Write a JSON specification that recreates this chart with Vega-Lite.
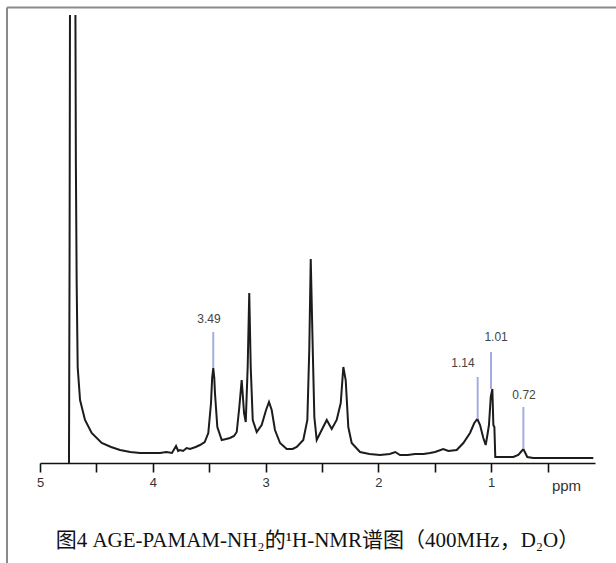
{
  "$schema": "https://vega.github.io/schema/vega-lite/v6.json",
  "width": 555,
  "height": 448,
  "autosize": {"type": "none"},
  "padding": {"left": 40, "top": 15, "right": 21, "bottom": 100},
  "background": "white",
  "config": {"view": {"stroke": null}},
  "title": {
    "text": "图4 AGE-PAMAM-NH₂的¹H-NMR谱图（400MHz，D₂O）",
    "orient": "bottom",
    "anchor": "middle",
    "offset": -34,
    "font": "Liberation Serif, Noto Sans CJK SC",
    "fontSize": 21,
    "fontWeight": "normal",
    "color": "#111"
  },
  "layer": [
    {
      "data": {"values": [
      {"ppm": 4.743, "intensity": 0}, {"ppm": 4.738, "intensity": 200}, {"ppm": 4.732, "intensity": 600},
      {"ppm": 4.725, "intensity": 1200}, {"ppm": 4.70, "intensity": 1200}, {"ppm": 4.69, "intensity": 600},
      {"ppm": 4.682, "intensity": 300}, {"ppm": 4.675, "intensity": 180}, {"ppm": 4.666, "intensity": 96},
      {"ppm": 4.645, "intensity": 63}, {"ppm": 4.601, "intensity": 43}, {"ppm": 4.542, "intensity": 30},
      {"ppm": 4.453, "intensity": 20}, {"ppm": 4.37, "intensity": 16}, {"ppm": 4.291, "intensity": 13},
      {"ppm": 4.20, "intensity": 11}, {"ppm": 4.113, "intensity": 10}, {"ppm": 4.02, "intensity": 10},
      {"ppm": 3.936, "intensity": 10}, {"ppm": 3.88, "intensity": 11}, {"ppm": 3.83, "intensity": 10},
      {"ppm": 3.794, "intensity": 17}, {"ppm": 3.775, "intensity": 12}, {"ppm": 3.759, "intensity": 13},
      {"ppm": 3.732, "intensity": 12}, {"ppm": 3.70, "intensity": 15}, {"ppm": 3.670, "intensity": 14},
      {"ppm": 3.62, "intensity": 16}, {"ppm": 3.582, "intensity": 18}, {"ppm": 3.54, "intensity": 21},
      {"ppm": 3.508, "intensity": 30}, {"ppm": 3.484, "intensity": 60}, {"ppm": 3.474, "intensity": 85},
      {"ppm": 3.464, "intensity": 95}, {"ppm": 3.455, "intensity": 85}, {"ppm": 3.449, "intensity": 70},
      {"ppm": 3.428, "intensity": 36}, {"ppm": 3.389, "intensity": 23}, {"ppm": 3.35, "intensity": 24},
      {"ppm": 3.316, "intensity": 25}, {"ppm": 3.28, "intensity": 27}, {"ppm": 3.256, "intensity": 31},
      {"ppm": 3.233, "intensity": 56}, {"ppm": 3.212, "intensity": 83}, {"ppm": 3.191, "intensity": 50},
      {"ppm": 3.176, "intensity": 41}, {"ppm": 3.159, "intensity": 96}, {"ppm": 3.145, "intensity": 170},
      {"ppm": 3.132, "intensity": 96}, {"ppm": 3.114, "intensity": 43}, {"ppm": 3.079, "intensity": 31},
      {"ppm": 3.035, "intensity": 38}, {"ppm": 2.996, "intensity": 53}, {"ppm": 2.970, "intensity": 61},
      {"ppm": 2.946, "intensity": 53}, {"ppm": 2.917, "intensity": 33}, {"ppm": 2.872, "intensity": 20},
      {"ppm": 2.813, "intensity": 14}, {"ppm": 2.76, "intensity": 14}, {"ppm": 2.724, "intensity": 16},
      {"ppm": 2.666, "intensity": 23}, {"ppm": 2.630, "intensity": 43}, {"ppm": 2.613, "intensity": 113},
      {"ppm": 2.600, "intensity": 204}, {"ppm": 2.582, "intensity": 113}, {"ppm": 2.568, "intensity": 46},
      {"ppm": 2.547, "intensity": 23}, {"ppm": 2.503, "intensity": 33}, {"ppm": 2.458, "intensity": 43},
      {"ppm": 2.414, "intensity": 34}, {"ppm": 2.370, "intensity": 43}, {"ppm": 2.334, "intensity": 60},
      {"ppm": 2.311, "intensity": 96}, {"ppm": 2.290, "intensity": 83}, {"ppm": 2.267, "intensity": 36},
      {"ppm": 2.237, "intensity": 20}, {"ppm": 2.163, "intensity": 11}, {"ppm": 2.08, "intensity": 9},
      {"ppm": 1.986, "intensity": 8}, {"ppm": 1.90, "intensity": 9}, {"ppm": 1.85, "intensity": 11},
      {"ppm": 1.809, "intensity": 8}, {"ppm": 1.74, "intensity": 8}, {"ppm": 1.676, "intensity": 9},
      {"ppm": 1.60, "intensity": 9}, {"ppm": 1.543, "intensity": 10}, {"ppm": 1.498, "intensity": 11},
      {"ppm": 1.425, "intensity": 14}, {"ppm": 1.380, "intensity": 12}, {"ppm": 1.306, "intensity": 13},
      {"ppm": 1.247, "intensity": 20}, {"ppm": 1.188, "intensity": 30}, {"ppm": 1.150, "intensity": 40},
      {"ppm": 1.123, "intensity": 44}, {"ppm": 1.099, "intensity": 38}, {"ppm": 1.070, "intensity": 25},
      {"ppm": 1.049, "intensity": 18}, {"ppm": 1.031, "intensity": 30}, {"ppm": 1.020, "intensity": 38},
      {"ppm": 1.004, "intensity": 66}, {"ppm": 0.990, "intensity": 74}, {"ppm": 0.981, "intensity": 38},
      {"ppm": 0.972, "intensity": 36}, {"ppm": 0.964, "intensity": 6}, {"ppm": 0.922, "intensity": 6},
      {"ppm": 0.804, "intensity": 6}, {"ppm": 0.760, "intensity": 8}, {"ppm": 0.715, "intensity": 14},
      {"ppm": 0.680, "intensity": 6}, {"ppm": 0.627, "intensity": 5}, {"ppm": 0.39, "intensity": 5},
      {"ppm": 0.095, "intensity": 5}
      ]},
      "mark": {"type": "line", "color": "#1c1c1c", "strokeWidth": 2, "clip": true},
      "encoding": {
        "x": {
          "field": "ppm",
          "type": "quantitative",
          "scale": {"domain": [0.08, 5], "reverse": true, "nice": false, "zero": false},
          "axis": {
            "values": [5, 4.5, 4, 3.5, 3, 2.5, 2, 1.5, 1, 0.5],
            "format": ".0f",
            "labelExpr": "datum.value % 1 === 0 ? datum.label : ''",
            "grid": false,
            "domainColor": "#111",
            "domainWidth": 1.6,
            "tickColor": "#111",
            "tickWidth": 1.6,
            "tickSize": 9,
            "labelPadding": 4,
            "labelFont": "Liberation Sans",
            "labelFontSize": 13,
            "labelColor": "#333",
            "labelFlush": false,
            "title": "ppm",
            "titleFont": "Liberation Sans",
            "titleFontSize": 15,
            "titleFontWeight": "normal",
            "titleColor": "#333",
            "titleX": 526,
            "titleY": 22,
            "titleAlign": "center",
            "titleBaseline": "middle"
          }
        },
        "y": {
          "field": "intensity",
          "type": "quantitative",
          "scale": {"domain": [0, 448], "nice": false},
          "axis": null
        }
      }
    },
    {
      "data": {"values": [{"ppm": 5.2926, "right": -0.106, "intensity": 455.5, "bottom": -100}]},
      "mark": {"type": "rule", "color": "#8a8a8a", "strokeWidth": 2},
      "encoding": {
        "x": {"field": "ppm", "type": "quantitative", "axis": {
            "values": [5, 4.5, 4, 3.5, 3, 2.5, 2, 1.5, 1, 0.5],
            "format": ".0f",
            "labelExpr": "datum.value % 1 === 0 ? datum.label : ''",
            "grid": false,
            "domainColor": "#111",
            "domainWidth": 1.6,
            "tickColor": "#111",
            "tickWidth": 1.6,
            "tickSize": 9,
            "labelPadding": 4,
            "labelFont": "Liberation Sans",
            "labelFontSize": 13,
            "labelColor": "#333",
            "labelFlush": false,
            "title": "ppm",
            "titleFont": "Liberation Sans",
            "titleFontSize": 15,
            "titleFontWeight": "normal",
            "titleColor": "#333",
            "titleX": 526,
            "titleY": 22,
            "titleAlign": "center",
            "titleBaseline": "middle"
          }},
        "x2": {"field": "right"},
        "y": {"field": "intensity", "type": "quantitative", "axis": null}
      }
    },
    {
      "data": {"values": [{"ppm": 5.2926, "right": -0.106, "intensity": 455.5, "bottom": -100}]},
      "mark": {"type": "rule", "color": "#8a8a8a", "strokeWidth": 2},
      "encoding": {
        "x": {"field": "ppm", "type": "quantitative", "axis": {
            "values": [5, 4.5, 4, 3.5, 3, 2.5, 2, 1.5, 1, 0.5],
            "format": ".0f",
            "labelExpr": "datum.value % 1 === 0 ? datum.label : ''",
            "grid": false,
            "domainColor": "#111",
            "domainWidth": 1.6,
            "tickColor": "#111",
            "tickWidth": 1.6,
            "tickSize": 9,
            "labelPadding": 4,
            "labelFont": "Liberation Sans",
            "labelFontSize": 13,
            "labelColor": "#333",
            "labelFlush": false,
            "title": "ppm",
            "titleFont": "Liberation Sans",
            "titleFontSize": 15,
            "titleFontWeight": "normal",
            "titleColor": "#333",
            "titleX": 526,
            "titleY": 22,
            "titleAlign": "center",
            "titleBaseline": "middle"
          }},
        "y": {"field": "intensity", "type": "quantitative", "axis": null},
        "y2": {"field": "bottom"}
      }
    },
    {
      "data": {"values": [
        {"label": "3.49", "ppm": 3.464, "top": 131, "intensity": 95},
        {"label": "1.14", "ppm": 1.120, "top": 86, "intensity": 44},
        {"label": "1.01", "ppm": 1.002, "top": 111, "intensity": 74},
        {"label": "0.72", "ppm": 0.715, "top": 56, "intensity": 14}
      ]},
      "mark": {"type": "rule", "color": "#a3addf", "strokeWidth": 2},
      "encoding": {
        "x": {"field": "ppm", "type": "quantitative", "axis": {
            "values": [5, 4.5, 4, 3.5, 3, 2.5, 2, 1.5, 1, 0.5],
            "format": ".0f",
            "labelExpr": "datum.value % 1 === 0 ? datum.label : ''",
            "grid": false,
            "domainColor": "#111",
            "domainWidth": 1.6,
            "tickColor": "#111",
            "tickWidth": 1.6,
            "tickSize": 9,
            "labelPadding": 4,
            "labelFont": "Liberation Sans",
            "labelFontSize": 13,
            "labelColor": "#333",
            "labelFlush": false,
            "title": "ppm",
            "titleFont": "Liberation Sans",
            "titleFontSize": 15,
            "titleFontWeight": "normal",
            "titleColor": "#333",
            "titleX": 526,
            "titleY": 22,
            "titleAlign": "center",
            "titleBaseline": "middle"
          }},
        "y": {"field": "intensity", "type": "quantitative", "axis": null},
        "y2": {"field": "top"}
      }
    },
    {
      "data": {"values": [
        {"label": "3.49", "ppm": 3.502, "intensity": 144},
        {"label": "1.14", "ppm": 1.250, "intensity": 100},
        {"label": "1.01", "ppm": 0.957, "intensity": 126},
        {"label": "0.72", "ppm": 0.709, "intensity": 68}
      ]},
      "mark": {"type": "text", "font": "Liberation Sans", "fontSize": 12, "fill": "#444", "align": "center", "baseline": "middle"},
      "encoding": {
        "x": {"field": "ppm", "type": "quantitative", "axis": {
            "values": [5, 4.5, 4, 3.5, 3, 2.5, 2, 1.5, 1, 0.5],
            "format": ".0f",
            "labelExpr": "datum.value % 1 === 0 ? datum.label : ''",
            "grid": false,
            "domainColor": "#111",
            "domainWidth": 1.6,
            "tickColor": "#111",
            "tickWidth": 1.6,
            "tickSize": 9,
            "labelPadding": 4,
            "labelFont": "Liberation Sans",
            "labelFontSize": 13,
            "labelColor": "#333",
            "labelFlush": false,
            "title": "ppm",
            "titleFont": "Liberation Sans",
            "titleFontSize": 15,
            "titleFontWeight": "normal",
            "titleColor": "#333",
            "titleX": 526,
            "titleY": 22,
            "titleAlign": "center",
            "titleBaseline": "middle"
          }},
        "y": {"field": "intensity", "type": "quantitative", "axis": null},
        "text": {"field": "label", "type": "nominal"}
      }
    }
  ]
}
